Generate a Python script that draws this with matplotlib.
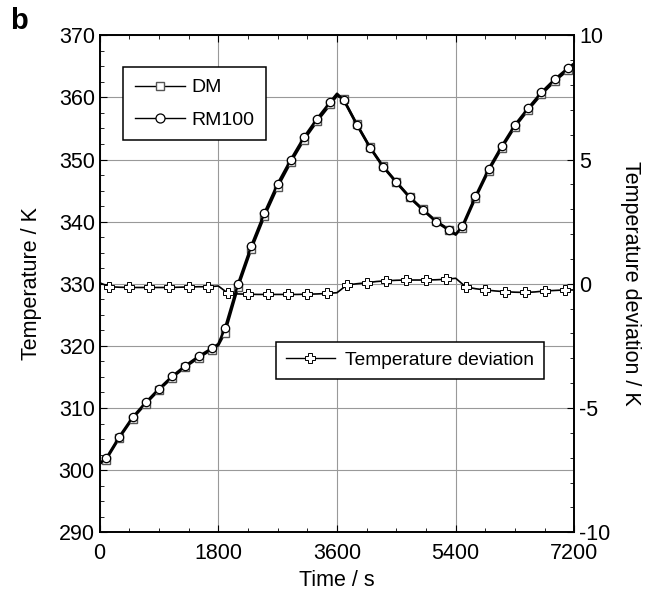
import numpy as np
import matplotlib
matplotlib.use("Agg")
import matplotlib.pyplot as plt
from matplotlib.ticker import MultipleLocator
from matplotlib.lines import Line2D

plt.rcParams['font.family'] = ['Liberation Sans', 'DejaVu Sans']
plt.rcParams['axes.unicode_minus'] = False

# 時間 [s] (マーカーは 100+200k の点)
time = [0, 100, 300, 500, 700, 900, 1100, 1300, 1500, 1700, 1800,
        1900, 2100, 2300, 2500, 2700, 2900, 3100, 3300, 3500, 3600,
        3700, 3900, 4100, 4300, 4500, 4700, 4900, 5100, 5300, 5400,
        5500, 5700, 5900, 6100, 6300, 6500, 6700, 6900, 7100, 7200]

rm100 = [301.1, 301.9, 305.4, 308.5, 310.9, 313.1, 315.1, 316.8, 318.3, 319.6, 320.3,
         322.8, 330.0, 336.1, 341.4, 346.1, 350.0, 353.6, 356.6, 359.3, 360.6,
         359.6, 355.6, 351.9, 348.8, 346.3, 343.9, 341.9, 340.0, 338.6, 337.9,
         339.3, 344.1, 348.5, 352.2, 355.6, 358.3, 360.8, 362.9, 364.7, 365.5]

dm = [301.0, 301.7, 305.2, 308.3, 310.7, 312.9, 314.9, 316.6, 318.1, 319.4, 320.1,
      322.1, 329.5, 335.6, 340.9, 345.6, 349.6, 353.2, 356.2, 358.9, 360.3,
      359.7, 355.7, 352.0, 348.9, 346.4, 344.0, 342.0, 340.1, 338.7, 338.0,
      339.0, 343.8, 348.2, 351.9, 355.3, 358.0, 360.5, 362.6, 364.4, 365.2]

# 温度偏差 [K] (0,150,300,...,7200 s, マーカーは 150+300k の点)
dev_time = list(range(0, 7201, 150))
dev = [0.04, -0.12, -0.14, -0.15, -0.15, -0.15, -0.15, -0.15, -0.14, -0.13, -0.12, -0.12,
       -0.09, -0.39, -0.41, -0.42, -0.43, -0.43, -0.43, -0.43, -0.43, -0.42, -0.41, -0.39,
       -0.36, -0.05, 0.00, 0.04, 0.09, 0.12, 0.14, 0.15, 0.15, 0.15, 0.16, 0.18,
       0.22, -0.12, -0.20, -0.25, -0.29, -0.32, -0.34, -0.35, -0.33, -0.29, -0.27, -0.25,
       -0.25]

mark_idx = [i for i, t in enumerate(time) if t % 200 == 100]

fig = plt.figure(figsize=(6.54, 5.98), dpi=100)
ax = fig.add_axes([0.1523, 0.110, 0.726, 0.831])

ax.plot(time, dm, color="black", lw=1.8, marker="s", ms=5.5, mfc="white", mec="#555555",
        mew=1.0, markevery=mark_idx, zorder=3)
ax.plot(time, rm100, color="black", lw=1.8, marker="o", ms=6, mfc="white", mec="black",
        mew=0.9, markevery=mark_idx, zorder=4)

ax.set_xlim(0, 7200)
ax.set_ylim(290, 370)
ax.xaxis.set_major_locator(MultipleLocator(1800))
ax.xaxis.set_minor_locator(MultipleLocator(450))
ax.yaxis.set_major_locator(MultipleLocator(10))
ax.yaxis.set_minor_locator(MultipleLocator(2.5))
ax.grid(which="major", color="#999999", lw=0.8)
ax.tick_params(which="both", direction="in", top=True, right=False, labelsize=15.5)
ax.tick_params(which="major", length=5)
ax.tick_params(which="minor", length=3)
ax.tick_params(axis="x", pad=8)
ax.set_xlabel("Time / s", fontsize=15.5, labelpad=4)
ax.set_ylabel("Temperature / K", fontsize=15.5, labelpad=12)
for s in ax.spines.values():
    s.set_linewidth(1.2)

ax2 = ax.twinx()
ax2.plot(dev_time, dev, color="black", lw=1.2, marker="P", ms=7, mfc="white", mec="black",
         mew=0.7, markevery=slice(1, None, 2), zorder=3)
ax2.set_ylim(-10, 10)
ax2.yaxis.set_major_locator(MultipleLocator(5))
ax2.yaxis.set_minor_locator(MultipleLocator(1))
ax2.tick_params(which="both", direction="in", labelsize=15.5)
ax2.tick_params(which="major", length=5)
ax2.tick_params(which="minor", length=3)
ax2.set_ylabel("Temperature deviation / K", fontsize=15.5, rotation=270, labelpad=22)
for s in ax2.spines.values():
    s.set_linewidth(1.2)

# 凡例 (細線)
h_dm = Line2D([], [], color="black", lw=1.0, marker="s", ms=6, mfc="white", mec="#555555", mew=1.0)
h_rm = Line2D([], [], color="black", lw=1.0, marker="o", ms=6.5, mfc="white", mec="black", mew=0.9)
h_dev = Line2D([], [], color="black", lw=1.0, marker="P", ms=7, mfc="white", mec="black", mew=0.7)

leg1 = ax.legend([h_dm, h_rm], ["DM", "RM100"], loc="upper left", bbox_to_anchor=(0.049, 0.936),
                 borderaxespad=0, fontsize=14, fancybox=False, edgecolor="black", framealpha=1,
                 handlelength=2.6, handletextpad=0.3, borderpad=0.6, labelspacing=0.75)
leg1.get_frame().set_linewidth(1.1)
leg2 = ax2.legend([h_dev], ["Temperature deviation"], loc="upper left",
                  bbox_to_anchor=(0.3715, 0.3827), borderaxespad=0,
                  fontsize=13.8, fancybox=False, edgecolor="black", framealpha=1,
                  handlelength=2.6, handletextpad=0.5, borderpad=0.5)
leg2.get_frame().set_linewidth(1.1)

fig.text(0.016, 0.952, "b", fontsize=21, fontweight="bold")

fig.savefig("out.png", dpi=100)
